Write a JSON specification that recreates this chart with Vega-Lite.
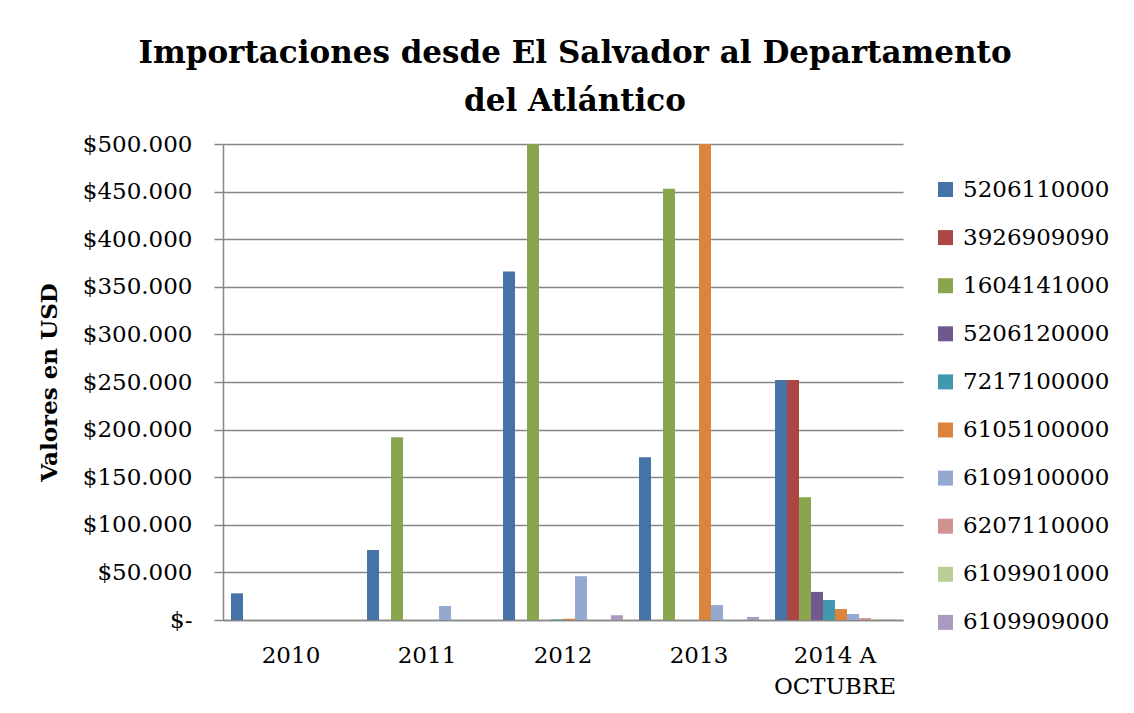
{
  "$schema": "https://vega.github.io/schema/vega-lite/v6.json",
  "width": 680,
  "height": 476,
  "autosize": {"type": "none"},
  "padding": {"left": 223, "top": 144, "right": 231, "bottom": 93},
  "background": "white",
  "title": {
    "text": ["Importaciones desde El Salvador al Departamento", "del Atlántico"],
    "font": "DejaVu Serif",
    "fontSize": 31,
    "fontWeight": "bold",
    "color": "black",
    "anchor": "middle",
    "frame": "group",
    "dx": 12,
    "offset": 15,
    "lineHeight": 48
  },
  "data": {
    "values": [
      {"year": "2010", "code": "5206110000", "value": 28000},
      {"year": "2011", "code": "5206110000", "value": 73500},
      {"year": "2011", "code": "1604141000", "value": 192000},
      {"year": "2011", "code": "6109100000", "value": 14700},
      {"year": "2012", "code": "5206110000", "value": 366000},
      {"year": "2012", "code": "1604141000", "value": 560000},
      {"year": "2012", "code": "7217100000", "value": 600},
      {"year": "2012", "code": "6105100000", "value": 1300},
      {"year": "2012", "code": "6109100000", "value": 46000},
      {"year": "2012", "code": "6109909000", "value": 5000},
      {"year": "2013", "code": "5206110000", "value": 171000},
      {"year": "2013", "code": "1604141000", "value": 453000},
      {"year": "2013", "code": "6105100000", "value": 540000},
      {"year": "2013", "code": "6109100000", "value": 15700},
      {"year": "2013", "code": "6109909000", "value": 3200},
      {"year": "2014 A OCTUBRE", "code": "5206110000", "value": 252000},
      {"year": "2014 A OCTUBRE", "code": "3926909090", "value": 252000},
      {"year": "2014 A OCTUBRE", "code": "1604141000", "value": 129000},
      {"year": "2014 A OCTUBRE", "code": "5206120000", "value": 29500},
      {"year": "2014 A OCTUBRE", "code": "7217100000", "value": 21000},
      {"year": "2014 A OCTUBRE", "code": "6105100000", "value": 11500},
      {"year": "2014 A OCTUBRE", "code": "6109100000", "value": 6300},
      {"year": "2014 A OCTUBRE", "code": "6207110000", "value": 2000},
      {"year": "2014 A OCTUBRE", "code": "6109901000", "value": 800},
      {"year": "2014 A OCTUBRE", "code": "6109909000", "value": 500}
    ]
  },
  "mark": {"type": "bar", "clip": true},
  "encoding": {
    "x": {
      "field": "year",
      "type": "nominal",
      "sort": ["2010", "2011", "2012", "2013", "2014 A OCTUBRE"],
      "scale": {"paddingInner": 0.118, "paddingOuter": 0.059},
      "axis": {
        "title": null,
        "labelAngle": 0,
        "labelFont": "DejaVu Serif",
        "labelFontSize": 23,
        "labelColor": "black",
        "labelPadding": 24,
        "labelLineHeight": 31,
        "labelExpr": "datum.label == '2014 A OCTUBRE' ? ['2014 A', 'OCTUBRE'] : datum.label",
        "ticks": false,
        "domainColor": "#868686",
        "domainWidth": 1.5,
        "grid": false
      }
    },
    "xOffset": {
      "field": "code",
      "type": "nominal",
      "sort": ["5206110000", "3926909090", "1604141000", "5206120000", "7217100000", "6105100000", "6109100000", "6207110000", "6109901000", "6109909000"],
      "scale": {"paddingInner": 0, "paddingOuter": 0}
    },
    "y": {
      "field": "value",
      "type": "quantitative",
      "scale": {"domain": [0, 500000], "nice": false},
      "axis": {
        "title": "Valores en USD",
        "titleFont": "DejaVu Serif",
        "titleFontSize": 23,
        "titleFontWeight": "bold",
        "titleColor": "black",
        "titlePadding": 21,
        "values": [0, 50000, 100000, 150000, 200000, 250000, 300000, 350000, 400000, 450000, 500000],
        "labelExpr": "datum.value == 0 ? '$-' : '$' + format(datum.value / 1000, 'd') + '.000'",
        "labelFont": "DejaVu Serif",
        "labelFontSize": 23,
        "labelColor": "black",
        "labelPadding": 22,
        "tickSize": 9,
        "tickColor": "#868686",
        "tickWidth": 1.5,
        "domainColor": "#868686",
        "domainWidth": 1.5,
        "gridColor": "#868686",
        "gridWidth": 1.5
      }
    },
    "color": {
      "field": "code",
      "type": "nominal",
      "sort": ["5206110000", "3926909090", "1604141000", "5206120000", "7217100000", "6105100000", "6109100000", "6207110000", "6109901000", "6109909000"],
      "scale": {
        "domain": ["5206110000", "3926909090", "1604141000", "5206120000", "7217100000", "6105100000", "6109100000", "6207110000", "6109901000", "6109909000"],
        "range": ["#4572A7", "#AA4643", "#89A54E", "#71588F", "#4198AF", "#DB843D", "#93A9CF", "#D19392", "#B9CD96", "#A99BBD"]
      },
      "legend": {
        "title": null,
        "orient": "none",
        "legendX": 711,
        "legendY": 34,
        "symbolType": "square",
        "symbolSize": 225,
        "symbolStrokeWidth": 0,
        "labelFont": "DejaVu Serif",
        "labelFontSize": 23,
        "labelColor": "black",
        "labelOffset": 6,
        "rowPadding": 24.1,
        "labelLimit": 300
      }
    }
  },
  "config": {
    "view": {"stroke": null}
  }
}
